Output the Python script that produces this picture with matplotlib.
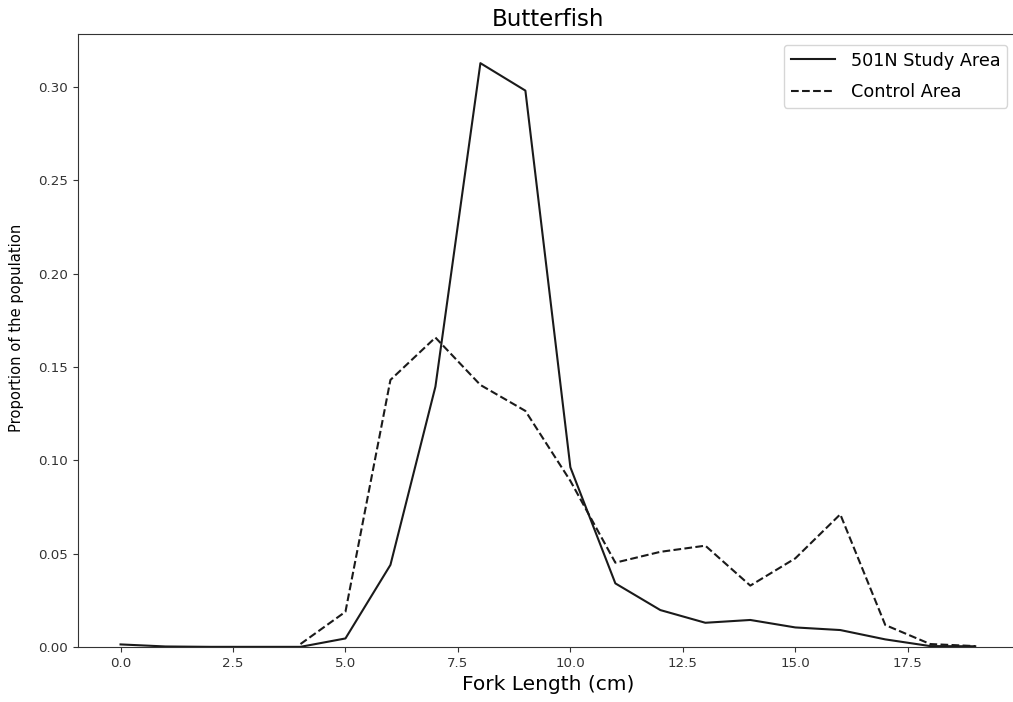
import numpy as np
import matplotlib
matplotlib.use("Agg")
import matplotlib.pyplot as plt

# fork length bins (cm)
study_x = np.arange(0, 20)
study_prop = [0.0014, 0.0003, 0.0001, 0.0001, 0.0001, 0.0046, 0.044, 0.1395, 0.3128, 0.2981,
              0.0963, 0.0341, 0.0198, 0.0130, 0.0145, 0.0105, 0.0091, 0.0041, 0.0005, 0.0004]

control_x = np.arange(4, 20)
control_prop = [0.0016, 0.0189, 0.1431, 0.1658, 0.1404, 0.1265,
                0.0890, 0.0452, 0.0510, 0.0543, 0.0329, 0.0475, 0.0711, 0.0118, 0.0016, 0.0005]

fig = plt.figure(figsize=(10.13, 7.02), dpi=100)
ax = fig.add_axes([0.0768, 0.0783, 0.9281, 0.8733])

ax.plot(study_x, study_prop, color='#1a1a1a', linestyle='-', lw=1.5, label='501N Study Area')
ax.plot(control_x, control_prop, color='#1a1a1a', linestyle='--', lw=1.5, label='Control Area')

ax.set_ylim(bottom=0)
ax.set_xticks([0, 2.5, 5, 7.5, 10, 12.5, 15, 17.5])
ax.tick_params(labelsize=9.6, colors='#333333')
for s in ax.spines.values():
    s.set_color('#333333')

ax.set_title("Butterfish", fontsize=16.5)
ax.set_xlabel("Fork Length (cm)", fontsize=14.5)
ax.set_ylabel("Proportion of the population", fontsize=10.6)
ax.yaxis.set_label_coords(-0.0575, 0.52)
ax.legend(loc='upper right', fontsize=12.7, labelspacing=0.75,
          handlelength=2.5, handletextpad=0.9, borderaxespad=0.6)

fig.savefig("out.png", dpi=100)
